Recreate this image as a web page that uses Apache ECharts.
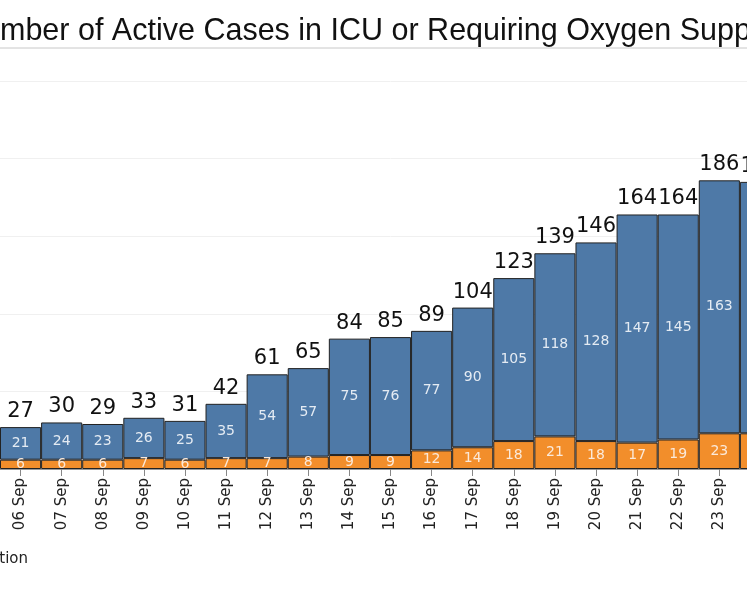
<!DOCTYPE html>
<html>
<head>
<meta charset="utf-8">
<title>Active Cases in ICU or Requiring Oxygen Supplementation</title>
<script src="https://cdn.jsdelivr.net/npm/echarts@6/dist/echarts.min.js"></script>
<style>
  html, body { margin: 0; padding: 0; background: #fff; overflow: hidden; }
  /* the chart is wider than the window: the last bar is cut by the right edge */
  #main { width: 800px; height: 598px; }
</style>
</head>
<body>
<div id="main"></div>
<script>
// data
var days = ['06 Sep', '07 Sep', '08 Sep', '09 Sep', '10 Sep', '11 Sep', '12 Sep', '13 Sep', '14 Sep', '15 Sep',
            '16 Sep', '17 Sep', '18 Sep', '19 Sep', '20 Sep', '21 Sep', '22 Sep', '23 Sep', '24 Sep'];
var icu = [6, 6, 6, 7, 6, 7, 7, 8, 9, 9, 12, 14, 18, 21, 18, 17, 19, 23, 23];
var oxygen = [21, 24, 23, 26, 25, 35, 54, 57, 75, 76, 77, 90, 105, 118, 128, 147, 145, 163, 162];
var totals = [27, 30, 29, 33, 31, 42, 61, 65, 84, 85, 89, 104, 123, 139, 146, 164, 164, 186, 185];
var legendNames = ['In ICU', 'Requiring Oxygen Supplementation'];

var myChart = echarts.init(document.getElementById('main'));

// the legend is cut by the left edge: its last word has to end near x = 28
var ctx = document.createElement('canvas').getContext('2d');
ctx.font = '15px "DejaVu Sans"';
var legendWidth = 0;
legendNames.forEach(function (n, i) {
    legendWidth += 14 + 5 + ctx.measureText(n).width;
    if (i > 0) legendWidth += 14;
});

var option = {
    animation: false,
    title: {
        text: 'Number of Active Cases in ICU or Requiring Oxygen Supplementation',
        left: -39,
        top: 16,
        padding: 0,
        textStyle: {
            fontFamily: 'Liberation Sans',
            fontSize: 30.5,
            fontWeight: 'normal',
            color: '#111'
        }
    },
    graphic: [{
        type: 'line',
        shape: { x1: 0, y1: 48, x2: 800, y2: 48 },
        style: { stroke: '#c8c8c8', lineWidth: 1 }
    }],
    legend: {
        data: legendNames,
        left: 26 - legendWidth,
        top: 551,
        width: legendWidth + 40,
        padding: 0,
        itemWidth: 14,
        itemHeight: 14,
        itemGap: 14,
        icon: 'rect',
        textStyle: { fontFamily: 'DejaVu Sans', fontSize: 15, color: '#222' }
    },
    grid: {
        left: 0,
        width: 781,
        top: 81,
        bottom: 129,
        containLabel: false
    },
    xAxis: {
        type: 'category',
        data: days,
        axisLine: { show: true, lineStyle: { color: '#999' } },
        axisTick: { show: true, alignWithLabel: true, length: 7, lineStyle: { color: '#888' } },
        axisLabel: {
            rotate: 90,
            margin: 9,
            fontFamily: 'DejaVu Sans',
            fontSize: 15,
            color: '#222'
        }
    },
    yAxis: {
        type: 'value',
        min: 0,
        max: 250,
        interval: 50,
        axisLabel: { show: false },
        axisLine: { show: false },
        axisTick: { show: false },
        splitLine: { lineStyle: { color: '#f0f0f0', width: 1 } }
    },
    series: [
        {
            name: 'In ICU',
            type: 'bar',
            stack: 'cases',
            barCategoryGap: 0,
            data: icu,
            itemStyle: { color: '#f28e2b', borderColor: '#222', borderWidth: 1 },
            label: {
                show: true,
                position: 'inside',
                fontFamily: 'DejaVu Sans',
                fontSize: 14,
                color: '#fbe9d9'
            }
        },
        {
            name: 'Requiring Oxygen Supplementation',
            type: 'bar',
            stack: 'cases',
            barCategoryGap: 0,
            data: oxygen,
            itemStyle: { color: '#4e79a7', borderColor: '#222', borderWidth: 1 },
            label: {
                show: true,
                position: 'inside',
                fontFamily: 'DejaVu Sans',
                fontSize: 14,
                color: '#e4ebf3'
            }
        },
        {
            // invisible overlay that carries the total labels
            name: 'Total',
            type: 'bar',
            barGap: '-100%',
            barCategoryGap: 0,
            data: totals,
            z: 1,
            silent: true,
            itemStyle: { color: 'rgba(0,0,0,0)', borderWidth: 0 },
            label: {
                show: true,
                position: 'top',
                distance: 5,
                fontFamily: 'DejaVu Sans',
                fontSize: 21,
                color: '#111'
            }
        }
    ]
};

myChart.setOption(option);
window.onresize = myChart.resize;
</script>
</body>
</html>
